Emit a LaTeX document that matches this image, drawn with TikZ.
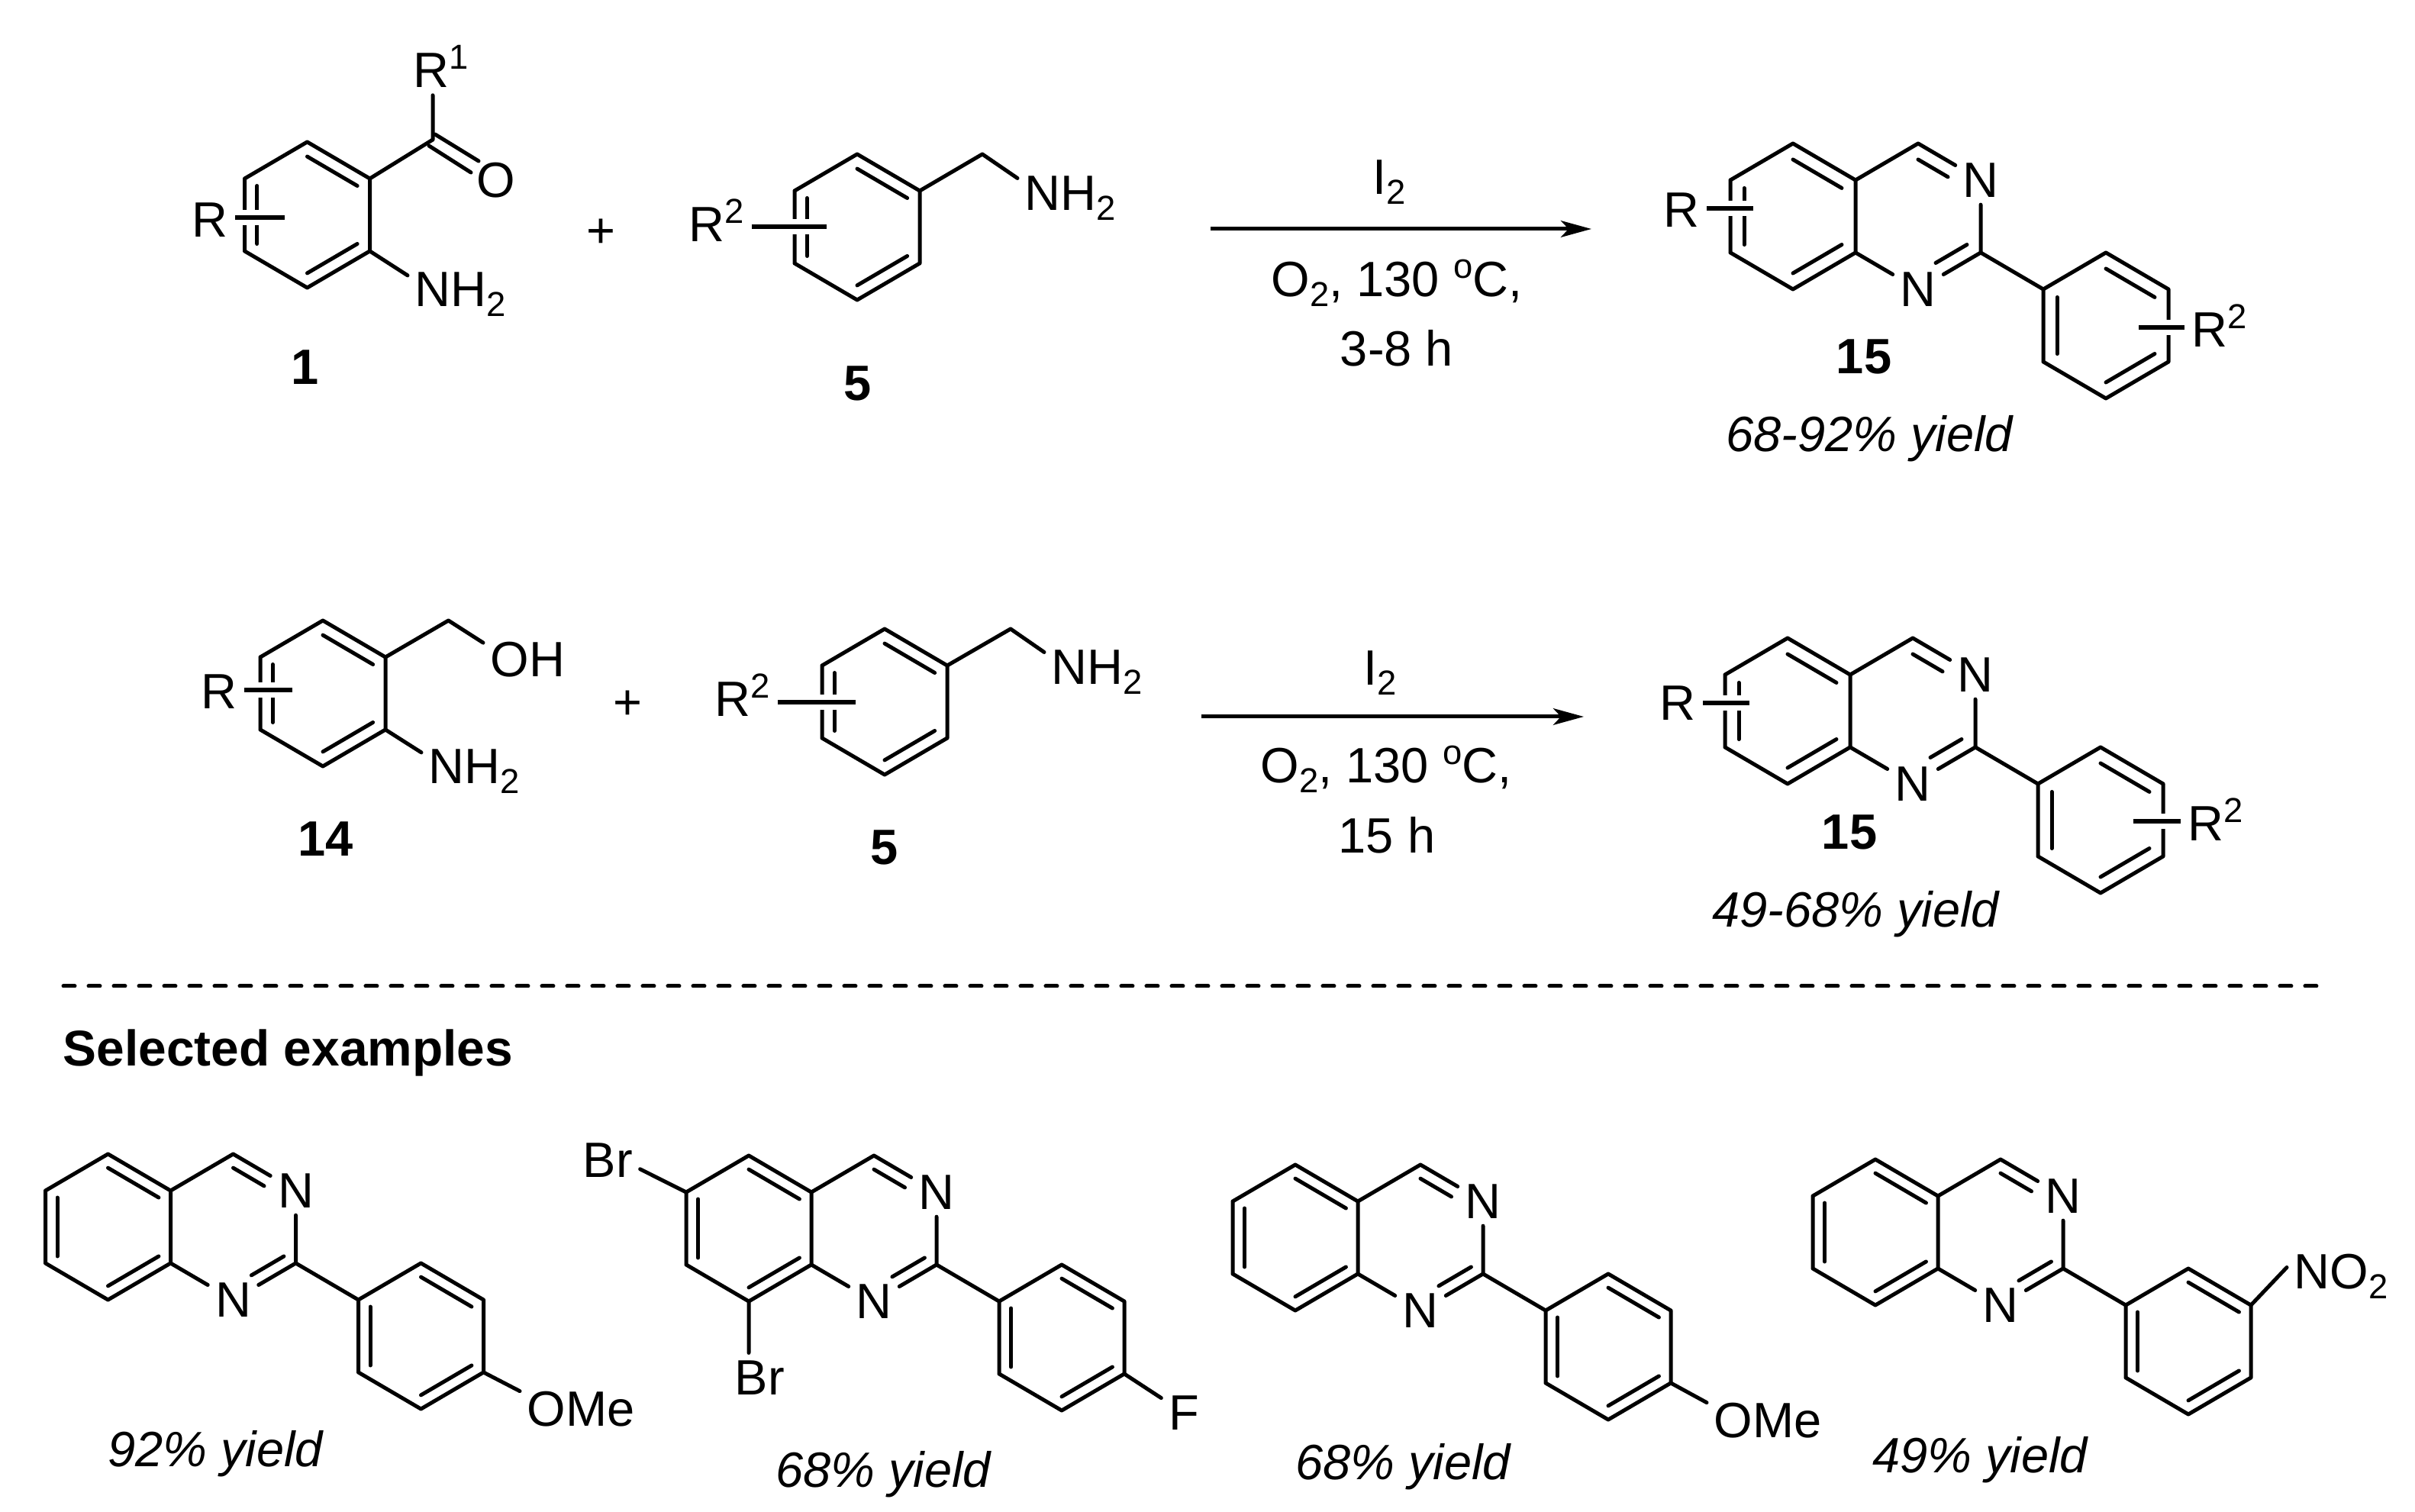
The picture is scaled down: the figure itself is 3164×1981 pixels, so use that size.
\documentclass[tikz,border=0pt]{standalone}
\usepackage{fontspec}
\setmainfont{Liberation Sans}
\usetikzlibrary{calc,arrows.meta}
\newcommand\sbs[1]{\raisebox{-0.2em}{\fontsize{10.9}{12}\selectfont #1}}
\newcommand\spr[1]{\raisebox{0.38em}{\fontsize{10.9}{12}\selectfont #1}}
\def\inn{.22}
\newcommand\dbl[3]{\draw[bond] ($(#1)!\inn!(#3)$) -- ($(#2)!\inn!(#3)$);}
% benzene ring: prefix, top vertex x, y
\newcommand\benz[3]{%
  \coordinate (#1a1) at (#2,#3);
  \coordinate (#1a2) at (#2+82,#3+48);
  \coordinate (#1a3) at (#2+82,#3+143);
  \coordinate (#1a4) at (#2,#3+191);
  \coordinate (#1a5) at (#2-82,#3+143);
  \coordinate (#1a6) at (#2-82,#3+48);
  \coordinate (#1ca) at (#2,#3+95.5);
  \draw[bond] (#1a1)--(#1a2) (#1a2)--(#1a3) (#1a3)--(#1a4) (#1a4)--(#1a5) (#1a5)--(#1a6) (#1a6)--(#1a1);
  \dbl{#1a1}{#1a2}{#1ca}\dbl{#1a3}{#1a4}{#1ca}\dbl{#1a5}{#1a6}{#1ca}
}
% 2-phenylquinazoline: prefix, top vertex of benzo ring x, y
\newcommand\quinaz[3]{%
  \benz{#1}{#2}{#3}
  \coordinate (#1c4) at (#2+164,#3);
  \coordinate (#1c2) at (#2+246,#3+143);
  \coordinate (#1cb) at (#2+164,#3+95.5);
  \node[tag] (#1n3) at (#2+246,#3+48) {N};
  \node[tag] (#1n1) at (#2+164,#3+191) {N};
  \draw[bond] (#1a2)--(#1c4) (#1c4)--(#1n3) (#1n3)--(#1c2) (#1c2)--(#1n1) (#1n1)--(#1a3);
  \coordinate (#1i4) at ($(#1c4)!\inn!(#1cb)$);
  \coordinate (#1i3) at ($(#1n3)!\inn!(#1cb)$);
  \coordinate (#1i2) at ($(#1c2)!\inn!(#1cb)$);
  \coordinate (#1i1) at ($(#1n1)!\inn!(#1cb)$);
  \draw[bond] (#1i4) -- ($(#1i4)!.61!(#1i3)$);
  \draw[bond] (#1i2) -- ($(#1i2)!.64!(#1i1)$);
  \coordinate (#1p1) at (#2+328,#3+191);
  \coordinate (#1p2) at (#2+410,#3+143);
  \coordinate (#1p3) at (#2+492,#3+191);
  \coordinate (#1p4) at (#2+492,#3+286);
  \coordinate (#1p5) at (#2+410,#3+334);
  \coordinate (#1p6) at (#2+328,#3+286);
  \coordinate (#1cp) at (#2+410,#3+238.5);
  \draw[bond] (#1c2)--(#1p1) (#1p1)--(#1p2) (#1p2)--(#1p3) (#1p3)--(#1p4) (#1p4)--(#1p5) (#1p5)--(#1p6) (#1p6)--(#1p1);
  \dbl{#1p2}{#1p3}{#1cp}\dbl{#1p4}{#1p5}{#1cp}\dbl{#1p6}{#1p1}{#1cp}
}
\tikzset{
  bond/.style={line width=1.2pt,line cap=round},
  bar/.style={line width=1.5pt},
  halo/.style={line width=5pt,white},
  tag/.style={inner sep=2.16pt},
  plain/.style={inner sep=0pt,anchor=base},
  numlabel/.style={inner sep=0pt,anchor=base,font=\fontsize{15.6}{18}\selectfont\bfseries},
  yieldlabel/.style={inner sep=0pt,anchor=base,font=\fontsize{15.6}{18}\selectfont\itshape},
  rxn/.style={line width=1.2pt,-{Stealth[length=9.6pt,width=5.2pt,inset=2.4pt]}}
}
\begin{document}
\begin{tikzpicture}[x=0.24pt,y=-0.24pt,font=\fontsize{15.6}{18}\selectfont]
\path[fill=white,use as bounding box] (0,0) rectangle (3164,1981);

%% ---------- first row
\def\inn{.2}
\benz{A}{402.5}{186}
\coordinate (Ac) at (567,183);
\node[tag,anchor=base] (Ar1) at (578,115) {R\spr{1}};
\node[tag] (Ao) at (650,236) {O};
\node[tag,anchor=base west] (Anh) at (534,402) {NH\sbs{2}};
\node[tag,anchor=base] (Ar) at (275,311) {R};
\coordinate (Abar) at (373,285);
\draw[bond] (Aa2)--(Ac) (Ac)--(Ac |- Ar1.south);
\draw[bond] ($(Ac)+(3,-7)$) -- ($(Ao.center)+(-23,-25)$);
\draw[bond] ($(Ac)+(-5,8)$) -- ($(Ao.center)+(-33,-10)$);
\draw[bond] (Aa3) -- (Anh.160);
\draw[halo] (Ar.east |- Abar) -- (Abar);
\draw[bar] (Ar.east |- Abar) -- (Abar);
\node[tag] (Apl) at (787,306) {+};
\node[numlabel] (Al) at (400,504) {1};

\benz{B}{1123}{202}
\coordinate (Bc) at (1287,202);
\node[tag,anchor=base west] (Bnh) at (1333,276) {NH\sbs{2}};
\node[tag,anchor=base west] (Br2) at (893,317) {R\spr{2}};
\coordinate (Bbar) at (1083,297);
\draw[bond] (Ba2)--(Bc) (Bc)--(Bnh.159);
\draw[halo] (Br2.east |- Bbar) -- (Bbar);
\draw[bar] (Br2.east |- Bbar) -- (Bbar);
\node[numlabel] (Bl) at (1124,525) {5};

\coordinate (ar1s) at (1586,300);
\coordinate (ar1e) at (2085,300);
\draw[rxn] (ar1s) -- (ar1e);
\node[plain] (c1a) at (1820,255) {I\sbs{2}};
\node[plain] (c1b) at (1830,389) {O\sbs{2}, 130 \spr{o}C,};
\node[plain] (c1c) at (1830,480) {3-8 h};

\def\inn{.22}
\quinaz{C}{2349}{188}
\node[tag,anchor=base] (Cr) at (2203,298) {R};
\coordinate (Cbar) at (2297,273);
\draw[halo] (Cr.east |- Cbar) -- (Cbar);
\draw[bar] (Cr.east |- Cbar) -- (Cbar);
\node[tag,anchor=base west] (Cr2) at (2862,455) {R\spr{2}};
\coordinate (Cbar2) at (2802,429);
\draw[halo] (Cr2.west |- Cbar2) -- (Cbar2);
\draw[bar] (Cr2.west |- Cbar2) -- (Cbar2);
\node[numlabel] (Cl) at (2442,490) {15};
\node[yieldlabel] (Cy) at (2449,592) {68-92\% yield};

%% ---------- second row
\def\inn{.2}
\benz{D}{423}{813}
\coordinate (Dc) at (587.5,813);
\node[tag,anchor=base west] (Doh) at (633,887) {OH};
\node[tag,anchor=base west] (Dnh) at (552,1027) {NH\sbs{2}};
\node[tag,anchor=base] (Dr) at (287,929) {R};
\coordinate (Dbar) at (383,904);
\draw[bond] (Da2)--(Dc) (Dc)--(Doh.159) (Da3)--(Dnh.160);
\draw[halo] (Dr.east |- Dbar) -- (Dbar);
\draw[bar] (Dr.east |- Dbar) -- (Dbar);
\node[tag] (Dpl) at (822,924) {+};
\node[numlabel] (Dl) at (427,1122) {14};

\benz{E}{1159}{824}
\coordinate (Ec) at (1324,824);
\node[tag,anchor=base west] (Enh) at (1368,897) {NH\sbs{2}};
\node[tag,anchor=base west] (Er2) at (927,939) {R\spr{2}};
\coordinate (Ebar) at (1121,920);
\draw[bond] (Ea2)--(Ec) (Ec)--(Enh.159);
\draw[halo] (Er2.east |- Ebar) -- (Ebar);
\draw[bar] (Er2.east |- Ebar) -- (Ebar);
\node[numlabel] (El) at (1159,1133) {5};

\coordinate (ar2s) at (1574,939);
\coordinate (ar2e) at (2075,939);
\draw[rxn] (ar2s) -- (ar2e);
\node[plain] (c2a) at (1808,898) {I\sbs{2}};
\node[plain] (c2b) at (1816,1026) {O\sbs{2}, 130 \spr{o}C,};
\node[plain] (c2c) at (1817,1118) {15 h};

\def\inn{.22}
\quinaz{F}{2342}{836}
\node[tag,anchor=base] (Fr) at (2198,944) {R};
\coordinate (Fbar) at (2292,921);
\draw[halo] (Fr.east |- Fbar) -- (Fbar);
\draw[bar] (Fr.east |- Fbar) -- (Fbar);
\node[tag,anchor=base west] (Fr2) at (2857,1102) {R\spr{2}};
\coordinate (Fbar2) at (2795,1076);
\draw[halo] (Fr2.west |- Fbar2) -- (Fbar2);
\draw[bar] (Fr2.west |- Fbar2) -- (Fbar2);
\node[numlabel] (Fl) at (2423,1113) {15};
\node[yieldlabel] (Fy) at (2431,1215) {49-68\% yield};

%% ---------- divider
\coordinate (dl) at (83,1292);
\coordinate (dr) at (3038,1292);
\draw[line width=1.2pt,line cap=round,dash pattern=on 3.6pt off 4.32pt] (dl) -- (dr);
\node[inner sep=0pt,anchor=base west,font=\fontsize{15.8}{18}\selectfont\bfseries] (sel) at (82,1397) {Selected examples};

%% ---------- examples
\def\inn{.19}
\quinaz{G}{141.5}{1512}
\node[tag,anchor=base west] (Gome) at (681,1868) {OMe};
\draw[bond] (Gp4) -- (Gome.164);
\node[yieldlabel] (Gy) at (282,1921) {92\% yield};

\quinaz{H}{981}{1514}
\node[tag,anchor=base west] (Hbr1) at (754,1542) {Br};
\node[tag,anchor=base west] (Hbr2) at (953,1827) {Br};
\node[tag] (Hf) at (1551,1851) {F};
\draw[bond] (Ha6) -- (Hbr1.344);
\draw[bond] (Ha4) -- (Hbr2.114);
\draw[bond] (Hp4) -- (Hf);
\node[yieldlabel] (Hy) at (1157,1948) {68\% yield};

\quinaz{J}{1697}{1526}
\node[tag,anchor=base west] (Jome) at (2236,1883) {OMe};
\draw[bond] (Jp4) -- (Jome.164);
\node[yieldlabel] (Jy) at (1838,1938) {68\% yield};

\quinaz{K}{2457}{1519}
\node[tag,anchor=base west] (Kno) at (2996,1688) {NO\sbs{2}};
\draw[bond] (Kp3) -- (Kno.171);
\node[yieldlabel] (Ky) at (2594,1929) {49\% yield};
\end{tikzpicture}
\end{document}
